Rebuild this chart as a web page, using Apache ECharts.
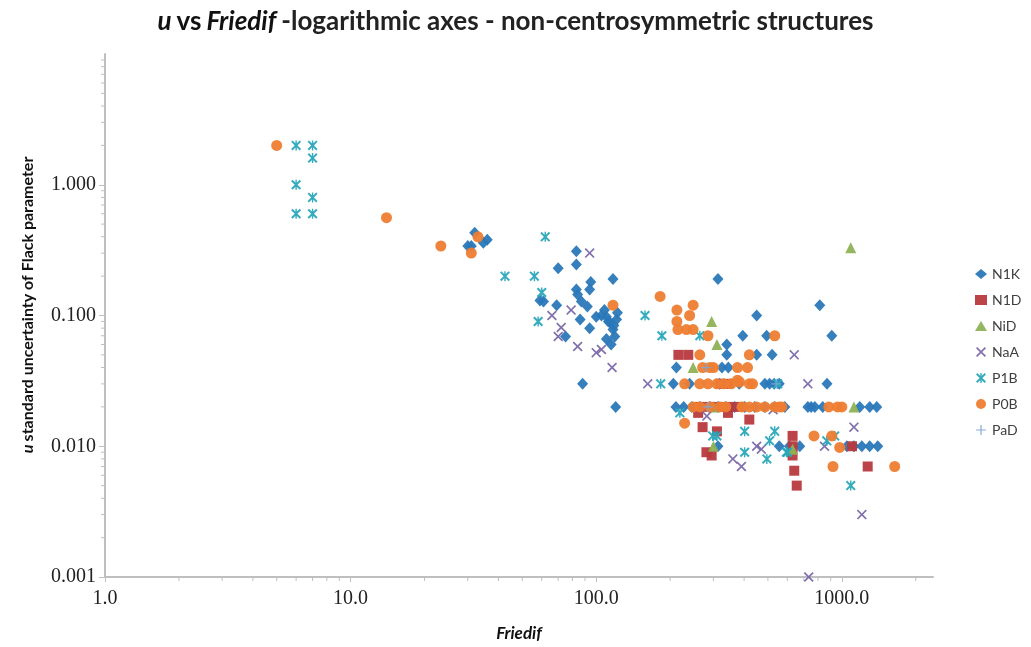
<!DOCTYPE html>
<html><head><meta charset="utf-8">
<script src="https://cdn.jsdelivr.net/npm/echarts@6/dist/echarts.min.js"></script>
<style>html,body{margin:0;padding:0;background:#fff}#c{width:1031px;height:647px}</style>
</head><body><div id="c"></div>
<script>
// ---- data: [Friedif, u] ----
var seriesNames = ['N1K','N1D','NiD','NaA','P1B','P0B','PaD'];
var N1K = [[31,0.34],[32,0.43],[34.7,0.36],[30,0.34],[36,0.38],
 [83,0.31],[70,0.23],[83,0.245],[117,0.19],[83,0.158],[95,0.18],[94,0.158],[84,0.145],[59,0.13],[61,0.128],[69,0.12],[87,0.128],[92,0.117],[86,0.093],[94,0.08],[75,0.069],[100,0.098],[110,0.098],[114,0.088],[117,0.078],[119,0.069],[115,0.06],[110,0.066],[121,0.093],[122,0.105],[105,0.1],[112,0.09],[118,0.084],[108,0.11],[88,0.03],[120,0.02],
 [313,0.19],[813,0.12],[450,0.1],[395,0.07],[494,0.07],[910,0.07],[340,0.06],[340,0.05],[450,0.05],[520,0.05],[212,0.04],[325,0.04],[345,0.04],
 [206,0.03],[240,0.03],[318,0.03],[382,0.03],[486,0.03],[508,0.03],[530,0.03],[556,0.03],[870,0.03],
 [211,0.02],[227,0.02],[245,0.02],[264,0.02],[290,0.02],[313,0.02],[337,0.02],[366,0.02],[402,0.02],[442,0.02],[486,0.02],[533,0.02],[586,0.02],[727,0.02],[750,0.02],[776,0.02],[836,0.02],[1183,0.02],[1298,0.02],[1387,0.02],
 [313,0.01],[556,0.01],[611,0.01],[674,0.01],[1048,0.01],[1120,0.01],[1206,0.01],[1298,0.01],[1400,0.01]];
var N1D = [[216,0.05],[237,0.05],[320,0.03],[345,0.03],[264,0.02],[290,0.02],[318,0.02],[349,0.02],[383,0.02],[260,0.018],[344,0.018],[420,0.016],[271,0.014],[310,0.013],[295,0.0085],[281,0.009],[630,0.012],[630,0.01],[630,0.0085],[640,0.0065],[655,0.005],[1274,0.007],[1100,0.01]];
var NiD = [[1087,0.33],[295,0.09],[310,0.06],[248,0.04],[300,0.02],[300,0.01],[1120,0.02],[630,0.0095]];
var NaA = [[94,0.3],[79,0.11],[66,0.1],[72,0.081],[70,0.069],[84,0.058],[100,0.052],[105,0.055],[116,0.04],[162,0.03],[640,0.05],[727,0.03],[450,0.01],[470,0.0095],[360,0.008],[390,0.007],[525,0.019],[850,0.01],[1120,0.014],[1206,0.003],[733,0.001],[282,0.017]];
var P1B = [[6,2.0],[7,2.0],[7,1.6],[6,1.0],[7,0.8],[6,0.6],[7,0.6],[62,0.4],[42.5,0.2],[56,0.2],[60,0.15],[58,0.09],[158,0.1],[185,0.07],[264,0.07],[183,0.03],[548,0.03],[219,0.018],[298,0.012],[310,0.012],[402,0.013],[533,0.013],[508,0.011],[402,0.009],[495,0.008],[600,0.009],[595,0.009],[868,0.011],[935,0.012],[1087,0.005]];
var P0B = [[5,2.0],[14,0.56],[23.3,0.34],[31,0.30],[33,0.4],[117,0.12],[182,0.14],[213,0.11],[213,0.09],[248,0.12],[240,0.1],[215,0.078],[233,0.078],[248,0.078],[285,0.07],[533,0.07],[264,0.05],[420,0.05],[271,0.04],[290,0.04],[300,0.04],[376,0.04],[413,0.04],[383,0.031],[376,0.032],
 [229,0.03],[264,0.03],[285,0.03],[310,0.03],[330,0.03],[354,0.03],[420,0.03],[433,0.03],
 [248,0.02],[264,0.02],[290,0.02],[318,0.02],[337,0.02],[392,0.02],[420,0.02],[450,0.02],[486,0.02],[533,0.02],[556,0.02],[570,0.02],[885,0.02],[960,0.02],[1000,0.02],
 [229,0.015],[770,0.012],[910,0.012],[920,0.007],[1641,0.007],[980,0.0098]];
var PaD = [[285,0.02],[280,0.04],[540,0.03]];
var xTickLabels = [1, 10, 100, 1000];
var yTickLabels = [0.001, 0.01, 0.1, 1];
var xMinorTicks = [2,3,4,5,6,7,8,9,20,30,40,50,60,70,80,90,200,300,400,500,600,700,800,900,2000];
var yMinorTicks = [0.002,0.003,0.004,0.005,0.006,0.007,0.008,0.009,0.02,0.03,0.04,0.05,0.06,0.07,0.08,0.09,0.2,0.3,0.4,0.5,0.6,0.7,0.8,0.9,2,3,4,5,6,7,8,9];

var colors = ['#2a78b8','#b8393d','#8db255','#7a68a8','#2aa8ba','#ee7d31','#7ea6d6'];
var symX = 'path://M0,1.2 L1.2,0 L5,3.8 L8.8,0 L10,1.2 L6.2,5 L10,8.8 L8.8,10 L5,6.2 L1.2,10 L0,8.8 L3.8,5 Z';
var symStar = 'path://M0,1.4 L1.4,0 L5,3.6 L8.6,0 L10,1.4 L6.4,5 L10,8.6 L8.6,10 L5,6.4 L1.4,10 L0,8.6 L3.6,5 Z M4.3,0 L5.7,0 L5.7,10 L4.3,10 Z';
var symPlus = 'path://M4.4,0 L5.6,0 L5.6,4.4 L10,4.4 L10,5.6 L5.6,5.6 L5.6,10 L4.4,10 L4.4,5.6 L0,5.6 L0,4.4 L4.4,4.4 Z';
var symbols = ['diamond','rect','triangle',symX,symStar,'circle',symPlus];
var sizes = [[11,12],10,11,10,10,11,10];
var datas = [N1K,N1D,NiD,NaA,P1B,P0B,PaD];

var chart = echarts.init(document.getElementById('c'), null, {renderer:'canvas'});
var series = seriesNames.map(function(n,i){
  return {name:n,type:'scatter',data:datas[i],symbol:symbols[i],symbolSize:sizes[i],
    itemStyle:{color:colors[i],opacity:0.95},emphasis:{disabled:true},z:3};
});
var axisGray = '#bfbfbf';
series.push({type:'custom',name:'xminor',silent:true,clip:false,z:1,
  data:xMinorTicks.map(function(v){return [v,0.001];}),
  renderItem:function(p,api){var pt=api.coord([api.value(0),api.value(1)]);
    return {type:'line',shape:{x1:pt[0],y1:pt[1],x2:pt[0],y2:pt[1]+4},style:{stroke:axisGray,lineWidth:1}};}
});
series.push({type:'custom',name:'yminor',silent:true,clip:false,z:1,
  data:yMinorTicks.map(function(v){return [1,v];}),
  renderItem:function(p,api){var pt=api.coord([api.value(0),api.value(1)]);
    return {type:'line',shape:{x1:pt[0]-4,y1:pt[1],x2:pt[0],y2:pt[1]},style:{stroke:axisGray,lineWidth:1}};}
});

var titleFont = 'Lato';
chart.setOption({
  animation:false,
  backgroundColor:'#fff',
  title:{left:'center',top:4,
    text:'{bi|u} {b|vs} {bi|Friedif} {r|-logarithmic axes - non-centrosymmetric structures}',
    textStyle:{rich:{
      bi:{fontFamily:titleFont,fontSize:26,fontWeight:'bold',fontStyle:'italic',color:'#111'},
      b:{fontFamily:titleFont,fontSize:26,fontWeight:'bold',color:'#111'},
      r:{fontFamily:titleFont,fontSize:26,color:'#222'}}}
  },
  legend:{orient:'vertical',left:970,top:262,itemWidth:12,itemHeight:10,itemGap:12,
    data:seriesNames,selectedMode:false,
    textStyle:{fontFamily:'Lato',fontSize:14,color:'#404040'}},
  grid:{left:105,right:98,top:54,bottom:69,containLabel:false},
  xAxis:{type:'log',logBase:10,min:1,max:2350,
    name:'Friedif',nameLocation:'middle',nameGap:48,
    nameTextStyle:{fontFamily:'Lato',fontSize:17,fontWeight:'bold',fontStyle:'italic',color:'#111'},
    axisLine:{show:true,lineStyle:{color:axisGray,width:2}},
    axisTick:{show:true,length:5,lineStyle:{color:axisGray}},
    splitLine:{show:false},
    axisLabel:{showMaxLabel:false,margin:12,fontFamily:'Liberation Serif',fontSize:20,color:'#222',
      formatter:function(v){return xTickLabels.some(function(t){return Math.abs(Math.log10(v/t))<1e-6;})?Number(v).toFixed(1):'';}}
  },
  yAxis:{type:'log',logBase:10,min:0.001,max:10,
    axisLine:{show:true,lineStyle:{color:axisGray,width:2}},
    axisTick:{show:true,length:6,lineStyle:{color:axisGray}},
    splitLine:{show:false},
    axisLabel:{showMaxLabel:false,margin:9,fontFamily:'Liberation Serif',fontSize:20,color:'#222',
      formatter:function(v){return yTickLabels.some(function(t){return Math.abs(Math.log10(v/t))<1e-6;})?Number(v).toFixed(3):'';}}
  },
  graphic:[{type:'text',x:28,y:305,rotation:Math.PI/2,
    style:{text:'{bi|u} {b|standard uncertainty of Flack parameter}',align:'center',verticalAlign:'middle',
      rich:{bi:{fontFamily:'Lato',fontSize:16,fontWeight:'bold',fontStyle:'italic',fill:'#111'},
            b:{fontFamily:'Lato',fontSize:16,fontWeight:'bold',fill:'#111'}}}}],
  series:series
});
</script></body></html>
